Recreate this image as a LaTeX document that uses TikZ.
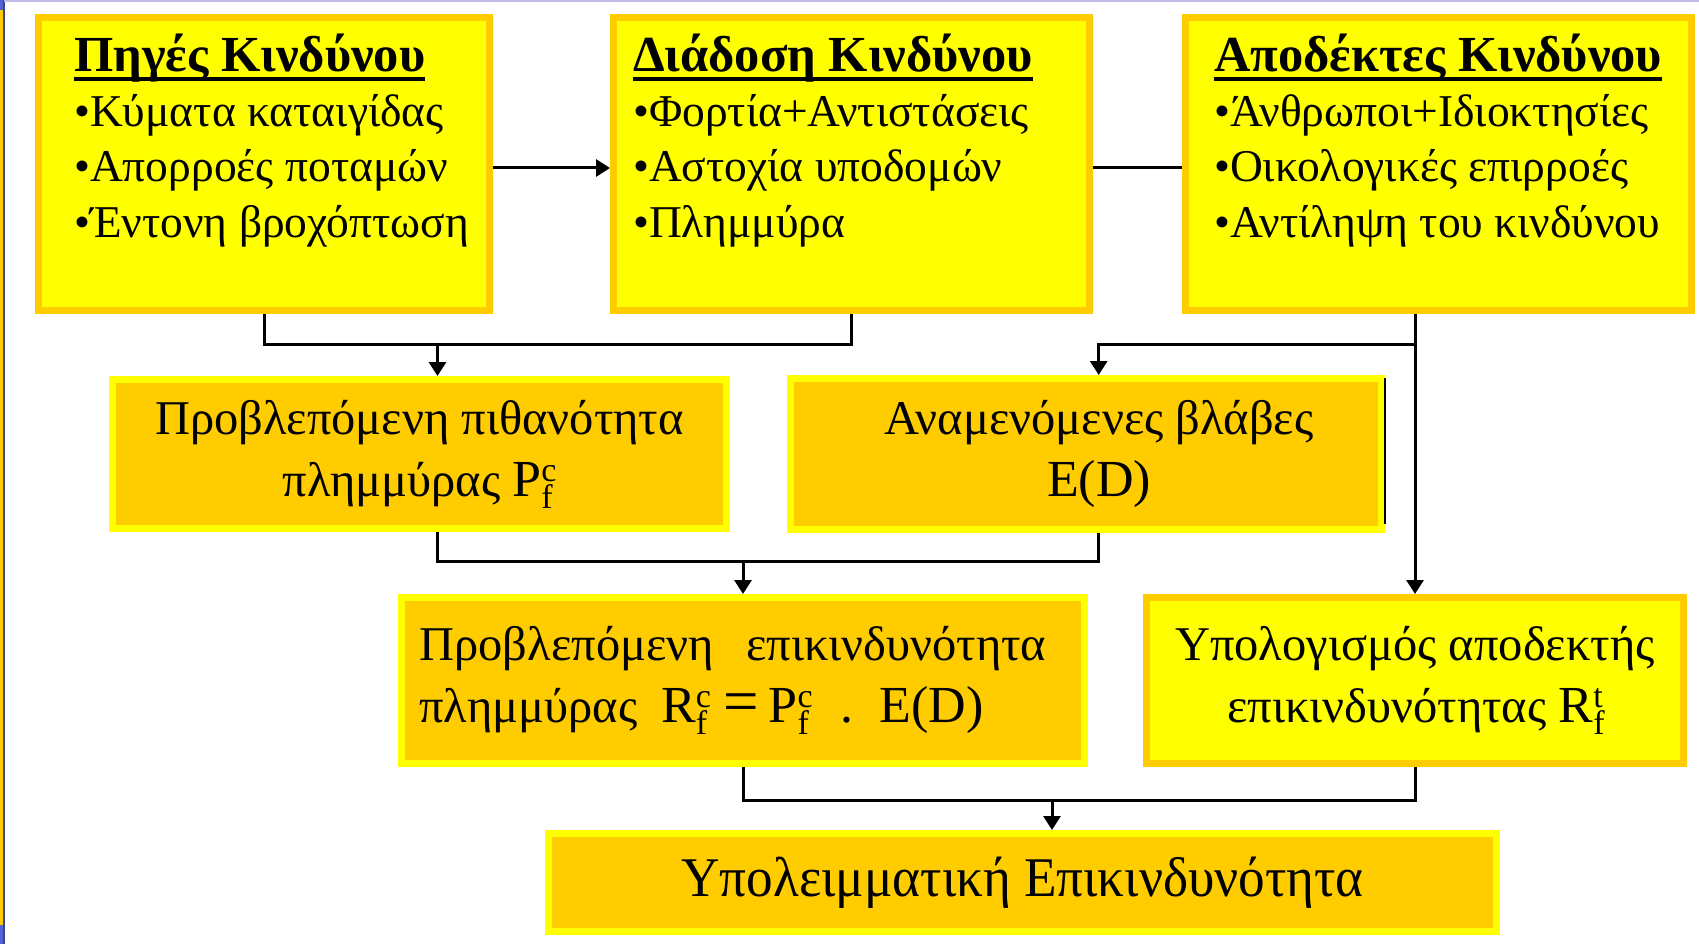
\documentclass[tikz,border=0pt]{standalone}
\usepackage{fontspec}
\setmainfont{Liberation Serif}
\newfontfamily\narrowserif[FakeStretch=0.95]{Liberation Serif}
\usetikzlibrary{arrows.meta}

\definecolor{boxyellow}{RGB}{255,255,0}
\definecolor{boxgold}{RGB}{255,204,0}
\definecolor{slideline}{RGB}{190,190,232}
\definecolor{slideblue}{RGB}{80,100,210}

% underlined heading with a heavy rule
\newcommand\hazul[1]{\setbox0=\hbox{#1}\rlap{\rule[-9.5pt]{\wd0}{4.5pt}}\box0}
% latin symbols a little larger than the greek text
\newcommand\lat[1]{{\fontsize{52}{62}\selectfont #1}}
% symbol with stacked subscript and superscript
\newcommand\idx[3]{\lat{#1}\rlap{\raisebox{-12pt}{\fontsize{34}{34}\selectfont #2}}\raisebox{15pt}{\fontsize{34}{34}\selectfont #3}}

\tikzset{
  pale/.style={draw=boxgold, fill=boxyellow, line width=7pt},
  deep/.style={draw=boxyellow, fill=boxgold, line width=7pt},
  headtext/.style={font=\fontsize{50.5}{55}\selectfont\bfseries, inner sep=0pt},
  itemtext/.style={font=\fontsize{45.5}{55}\selectfont, inner sep=0pt},
  bigtext/.style={font=\fontsize{48.5}{62}\selectfont},
  link/.style={line width=3pt},
}

\begin{document}
\begin{tikzpicture}[x=1pt, y=-1pt, >={Triangle[length=14pt,width=17pt]}]
  \useasboundingbox (0,0) rectangle (1699,944);

  % --- slide edges ---
  \fill[slideblue] (0,0) rectangle (3,944);
  \fill[boxgold] (0,10) rectangle (3,925);
  \draw[slideblue!70!black, line width=1.5pt] (3.8,0) -- (3.8,944);
  \draw[slideline, line width=2pt] (4,1) -- (1699,1);

  % --- upper row: sources, propagation, receptors ---
  \node[pale, minimum width=451, minimum height=293] (src) at (264,164) {};
  \node[pale, minimum width=476, minimum height=293] (spr) at (851.5,164) {};
  \node[pale, minimum width=506, minimum height=293] (rec) at (1438.5,164) {};

  \node[headtext, anchor=base west] (srchead) at (74,72) {\hazul{Πηγές Κινδύνου}};
  \foreach \txt [count=\i] in {Κύματα καταιγίδας, Απορροές ποταμών, Έντονη βροχόπτωση}
    \node[itemtext, anchor=base west] (src\i) at (74,{72+55*\i}) {•\txt};

  \node[headtext, anchor=base west] (sprhead) at (633,72) {\hazul{Διάδοση Κινδύνου}};
  \foreach \txt [count=\i] in {Φορτία+Αντιστάσεις, Αστοχία υποδομών, Πλημμύρα}
    \node[itemtext, anchor=base west] (spr\i) at (633,{72+55*\i}) {•\txt};

  \node[headtext, anchor=base west] (rechead) at (1214,72) {\hazul{Αποδέκτες Κινδύνου}};
  \foreach \txt [count=\i] in {Άνθρωποι+Ιδιοκτησίες, Οικολογικές επιρροές, Αντίληψη του κινδύνου}
    \node[itemtext, anchor=base west] (rec\i) at (1214,{72+55*\i}) {•\txt};

  % --- middle row ---
  \node[deep, bigtext, align=center, minimum width=614, minimum height=149] (prob) at (419.5,454)
    {Προβλεπόμενη πιθανότητα\\πλημμύρας \idx{P}{f}{c}};
  \node[deep, bigtext, align=center, minimum width=591, minimum height=151] (dmg) at (1086,454)
    {\hspace*{26pt}Αναμενόμενες βλάβες\\\hspace*{26pt}\lat{E(D)}};
  \draw[black, line width=2pt] ([yshift=-3pt]dmg.north east) -- ([yshift=9pt]dmg.south east);

  \node[deep, bigtext, align=left, text width=647, inner xsep=18pt, minimum width=683, minimum height=166] (calc) at (743,680.5)
    {Προβλεπόμενη\ \ επικινδυνότητα\\πλημμύρας\hspace{24pt}\idx{R}{f}{c}\hspace{12pt}{\fontsize{63}{62}\selectfont =}\hspace{10pt}\idx{P}{f}{c}\hspace{28pt}\lat{.}\hspace{26pt}\lat{E(D)}};
  \node[pale, bigtext, align=center, minimum width=537, minimum height=166] (risk) at (1415,680.5)
    {Υπολογισμός αποδεκτής\\επικινδυνότητας \idx{R}{f}{t}};

  % --- bottom ---
  \node[deep, font=\fontsize{56}{62}\selectfont\narrowserif, minimum width=948, minimum height=98] (resid) at (1022.5,882.5)
    {Υπολειμματική Επικινδυνότητα};

  % --- connectors ---
  \coordinate (busA) at (437.5,344.5);
  \coordinate (busB) at (1098.7,344.5);
  \coordinate (busC) at (743,562);
  \coordinate (busD) at (1052,800);

  \draw[link, ->] ([yshift=-4pt]src.east) -- ([yshift=-4pt]spr.west);
  \draw[link] ([yshift=-4pt]spr.east) -- ([yshift=-4pt]rec.west);

  \draw[link] (src.south) -- ++(0,30.5) -| (spr.south);
  \draw[link, ->] (busA) -- (busA |- prob.north);

  \draw[link, ->] (risk.north |- rec.south) -- (risk.north);
  \draw[link, ->] (risk.north |- busB) -- (busB) -- (busB |- dmg.north);

  \draw[link] (busA |- prob.south) -- ++(0,29.5) -| (busB |- dmg.south);
  \draw[link, ->] (busC) -- (calc.north);

  \draw[link] (calc.south) -- ++(0,33) -| (risk.south);
  \draw[link, ->] (busD) -- (busD |- resid.north);

\end{tikzpicture}
\end{document}
